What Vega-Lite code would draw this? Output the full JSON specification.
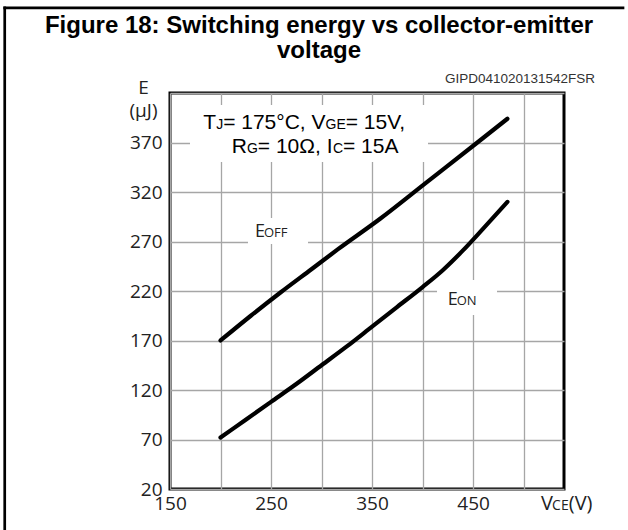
{
  "$schema": "https://vega.github.io/schema/vega-lite/v6.json",
  "width": 394,
  "height": 396,
  "autosize": {"type": "none"},
  "padding": {"left": 170, "top": 93, "right": 64, "bottom": 41},
  "background": "white",
  "config": {
    "view": {"stroke": "black", "strokeWidth": 3},
    "text": {"font": "Liberation Sans", "color": "black", "align": "left", "baseline": "alphabetic"}
  },
  "title": {
    "text": ["Figure 18: Switching energy vs collector-emitter", "voltage"],
    "font": "Liberation Sans",
    "fontSize": 24,
    "fontWeight": "bold",
    "color": "black",
    "anchor": "middle",
    "frame": "group",
    "dx": -48,
    "offset": -57,
    "lineHeight": 25
  },
  "datasets": {
    "curves": [
      {"series": "EOFF", "V": 200, "E": 170},
      {"series": "EOFF", "V": 230, "E": 195},
      {"series": "EOFF", "V": 260, "E": 219},
      {"series": "EOFF", "V": 290, "E": 242},
      {"series": "EOFF", "V": 316, "E": 262},
      {"series": "EOFF", "V": 358, "E": 293},
      {"series": "EOFF", "V": 403, "E": 329},
      {"series": "EOFF", "V": 453, "E": 369},
      {"series": "EOFF", "V": 484, "E": 394},
      {"series": "EON", "V": 200, "E": 72},
      {"series": "EON", "V": 225, "E": 90},
      {"series": "EON", "V": 250, "E": 108},
      {"series": "EON", "V": 275, "E": 126},
      {"series": "EON", "V": 300, "E": 145},
      {"series": "EON", "V": 325, "E": 164},
      {"series": "EON", "V": 350, "E": 184},
      {"series": "EON", "V": 375, "E": 204},
      {"series": "EON", "V": 400, "E": 224},
      {"series": "EON", "V": 420, "E": 241},
      {"series": "EON", "V": 440, "E": 261},
      {"series": "EON", "V": 460, "E": 283},
      {"series": "EON", "V": 484, "E": 310}
    ]
  },
  "layer": [
    {
      "data": {"values": [
        {"V": -13.6, "V2": 598.4, "E": 505.9, "E2": 505.9},
        {"V": -13.6, "V2": -13.6, "E": 505.9, "E2": -30}
      ]},
      "mark": {"type": "rule", "strokeWidth": 2.7, "color": "black", "strokeCap": "square"},
      "encoding": {
        "x": {"field": "V", "type": "quantitative", "scale": {"domain": [150, 540], "nice": false, "zero": false}},
        "x2": {"field": "V2"},
        "y": {"field": "E", "type": "quantitative", "scale": {"domain": [20, 420], "nice": false, "zero": false}},
        "y2": {"field": "E2"}
      }
    },
    {
      "data": {"values": [
        {"V": 169.8, "V2": 405.4, "E": 407.9, "E2": 350.3},
        {"V": 227.2, "V2": 286.6, "E": 293.7, "E2": 267.5},
        {"V": 414.3, "V2": 473.7, "E": 231.1, "E2": 195.8}
      ]},
      "mark": {"type": "rect", "fill": "white", "stroke": null},
      "encoding": {
        "x": {"field": "V", "type": "quantitative", "scale": {"domain": [150, 540], "nice": false, "zero": false}},
        "x2": {"field": "V2"},
        "y": {"field": "E", "type": "quantitative", "scale": {"domain": [20, 420], "nice": false, "zero": false}},
        "y2": {"field": "E2"}
      }
    },
    {
      "data": {"name": "curves"},
      "mark": {"type": "line", "color": "black", "strokeWidth": 4.2, "strokeCap": "round", "interpolate": "monotone"},
      "encoding": {
        "x": {
          "field": "V", "type": "quantitative",
          "scale": {"domain": [150, 540], "nice": false, "zero": false},
          "axis": {
            "values": [150, 200, 250, 300, 350, 400, 450, 500],
            "labelExpr": "datum.value % 100 == 50 ? datum.label : ''",
            "title": null, "domain": false, "ticks": false, "grid": true,
            "gridColor": "#a6a6a6", "gridWidth": 1.3,
            "labelFont": "Open Sans", "labelFontSize": 19, "labelColor": "#222",
            "labelPadding": 5, "labelFlush": false, "labelOverlap": false
          }
        },
        "y": {
          "field": "E", "type": "quantitative",
          "scale": {"domain": [20, 420], "nice": false, "zero": false},
          "axis": {
            "values": [20, 70, 120, 170, 220, 270, 320, 370, 420],
            "labelExpr": "datum.value < 400 ? datum.label : ''",
            "domain": false, "ticks": false, "grid": true,
            "gridColor": "#a6a6a6", "gridWidth": 1.3,
            "labelFont": "Open Sans", "labelFontSize": 19, "labelColor": "#222",
            "labelPadding": 8, "labelFlush": false, "labelOverlap": false,
            "title": ["E", "(µJ)"],
            "titleFont": "Open Sans", "titleFontSize": 19, "titleFontWeight": "normal", "titleColor": "#222",
            "titleAngle": 0, "titleAlign": "center", "titleBaseline": "alphabetic",
            "titleX": -27, "titleY": 0, "titleLineHeight": 23
          }
        },
        "detail": {"field": "series", "type": "nominal"}
      }
    },
    {
      "data": {"values": [{"V": 183, "E": 383.6, "t": "T"}]},
      "mark": {"type": "text", "fontSize": 21, "dx": 0},
      "encoding": {"x": {"field": "V", "type": "quantitative"}, "y": {"field": "E", "type": "quantitative"}, "text": {"field": "t"}}
    },
    {
      "data": {"values": [{"V": 183, "E": 383.6, "t": "J"}]},
      "mark": {"type": "text", "fontSize": 14, "dx": 12.8},
      "encoding": {"x": {"field": "V", "type": "quantitative"}, "y": {"field": "E", "type": "quantitative"}, "text": {"field": "t"}}
    },
    {
      "data": {"values": [{"V": 183, "E": 383.6, "t": "= 175°C, V"}]},
      "mark": {"type": "text", "fontSize": 21, "dx": 19.8},
      "encoding": {"x": {"field": "V", "type": "quantitative"}, "y": {"field": "E", "type": "quantitative"}, "text": {"field": "t"}}
    },
    {
      "data": {"values": [{"V": 183, "E": 383.6, "t": "GE"}]},
      "mark": {"type": "text", "fontSize": 14, "dx": 122.2},
      "encoding": {"x": {"field": "V", "type": "quantitative"}, "y": {"field": "E", "type": "quantitative"}, "text": {"field": "t"}}
    },
    {
      "data": {"values": [{"V": 183, "E": 383.6, "t": "= 15V,"}]},
      "mark": {"type": "text", "fontSize": 21, "dx": 142.4},
      "encoding": {"x": {"field": "V", "type": "quantitative"}, "y": {"field": "E", "type": "quantitative"}, "text": {"field": "t"}}
    },
    {
      "data": {"values": [{"V": 211.1, "E": 359.1, "t": "R"}]},
      "mark": {"type": "text", "fontSize": 21, "dx": 0},
      "encoding": {"x": {"field": "V", "type": "quantitative"}, "y": {"field": "E", "type": "quantitative"}, "text": {"field": "t"}}
    },
    {
      "data": {"values": [{"V": 211.1, "E": 359.1, "t": "G"}]},
      "mark": {"type": "text", "fontSize": 14, "dx": 15.2},
      "encoding": {"x": {"field": "V", "type": "quantitative"}, "y": {"field": "E", "type": "quantitative"}, "text": {"field": "t"}}
    },
    {
      "data": {"values": [{"V": 211.1, "E": 359.1, "t": "= 10Ω, I"}]},
      "mark": {"type": "text", "fontSize": 21, "dx": 26.1},
      "encoding": {"x": {"field": "V", "type": "quantitative"}, "y": {"field": "E", "type": "quantitative"}, "text": {"field": "t"}}
    },
    {
      "data": {"values": [{"V": 211.1, "E": 359.1, "t": "C"}]},
      "mark": {"type": "text", "fontSize": 14, "dx": 101.2},
      "encoding": {"x": {"field": "V", "type": "quantitative"}, "y": {"field": "E", "type": "quantitative"}, "text": {"field": "t"}}
    },
    {
      "data": {"values": [{"V": 211.1, "E": 359.1, "t": "= 15A"}]},
      "mark": {"type": "text", "fontSize": 21, "dx": 111.3},
      "encoding": {"x": {"field": "V", "type": "quantitative"}, "y": {"field": "E", "type": "quantitative"}, "text": {"field": "t"}}
    },
    {
      "data": {"values": [{"V": 234.1, "E": 274.5, "t": "E"}, {"V": 424.9, "E": 205.9, "t": "E"}]},
      "mark": {"type": "text", "font": "Open Sans", "fontSize": 18, "color": "#222", "dx": 0},
      "encoding": {"x": {"field": "V", "type": "quantitative"}, "y": {"field": "E", "type": "quantitative"}, "text": {"field": "t"}}
    },
    {
      "data": {"values": [{"V": 234.1, "E": 274.5, "t": "OFF"}, {"V": 424.9, "E": 205.9, "t": "ON"}]},
      "mark": {"type": "text", "font": "Open Sans", "fontSize": 13, "color": "#222", "dx": 9},
      "encoding": {"x": {"field": "V", "type": "quantitative"}, "y": {"field": "E", "type": "quantitative"}, "text": {"field": "t"}}
    },
    {
      "data": {"values": [{"V": 517.2, "E": -1.2, "t": "V"}]},
      "mark": {"type": "text", "font": "Open Sans", "fontSize": 20, "color": "#222", "dx": 0},
      "encoding": {"x": {"field": "V", "type": "quantitative"}, "y": {"field": "E", "type": "quantitative"}, "text": {"field": "t"}}
    },
    {
      "data": {"values": [{"V": 517.2, "E": -1.2, "t": "CE"}]},
      "mark": {"type": "text", "font": "Open Sans", "fontSize": 14, "color": "#222", "dx": 11.1},
      "encoding": {"x": {"field": "V", "type": "quantitative"}, "y": {"field": "E", "type": "quantitative"}, "text": {"field": "t"}}
    },
    {
      "data": {"values": [{"V": 517.2, "E": -1.2, "t": "(V)"}]},
      "mark": {"type": "text", "font": "Open Sans", "fontSize": 20, "color": "#222", "dx": 27.8},
      "encoding": {"x": {"field": "V", "type": "quantitative"}, "y": {"field": "E", "type": "quantitative"}, "text": {"field": "t"}}
    },
    {
      "data": {"values": [{"V": 570.7, "E": 430.1, "t": "GIPD041020131542FSR"}]},
      "mark": {"type": "text", "fontSize": 13.5, "color": "#333", "align": "right"},
      "encoding": {"x": {"field": "V", "type": "quantitative"}, "y": {"field": "E", "type": "quantitative"}, "text": {"field": "t"}}
    }
  ]
}
